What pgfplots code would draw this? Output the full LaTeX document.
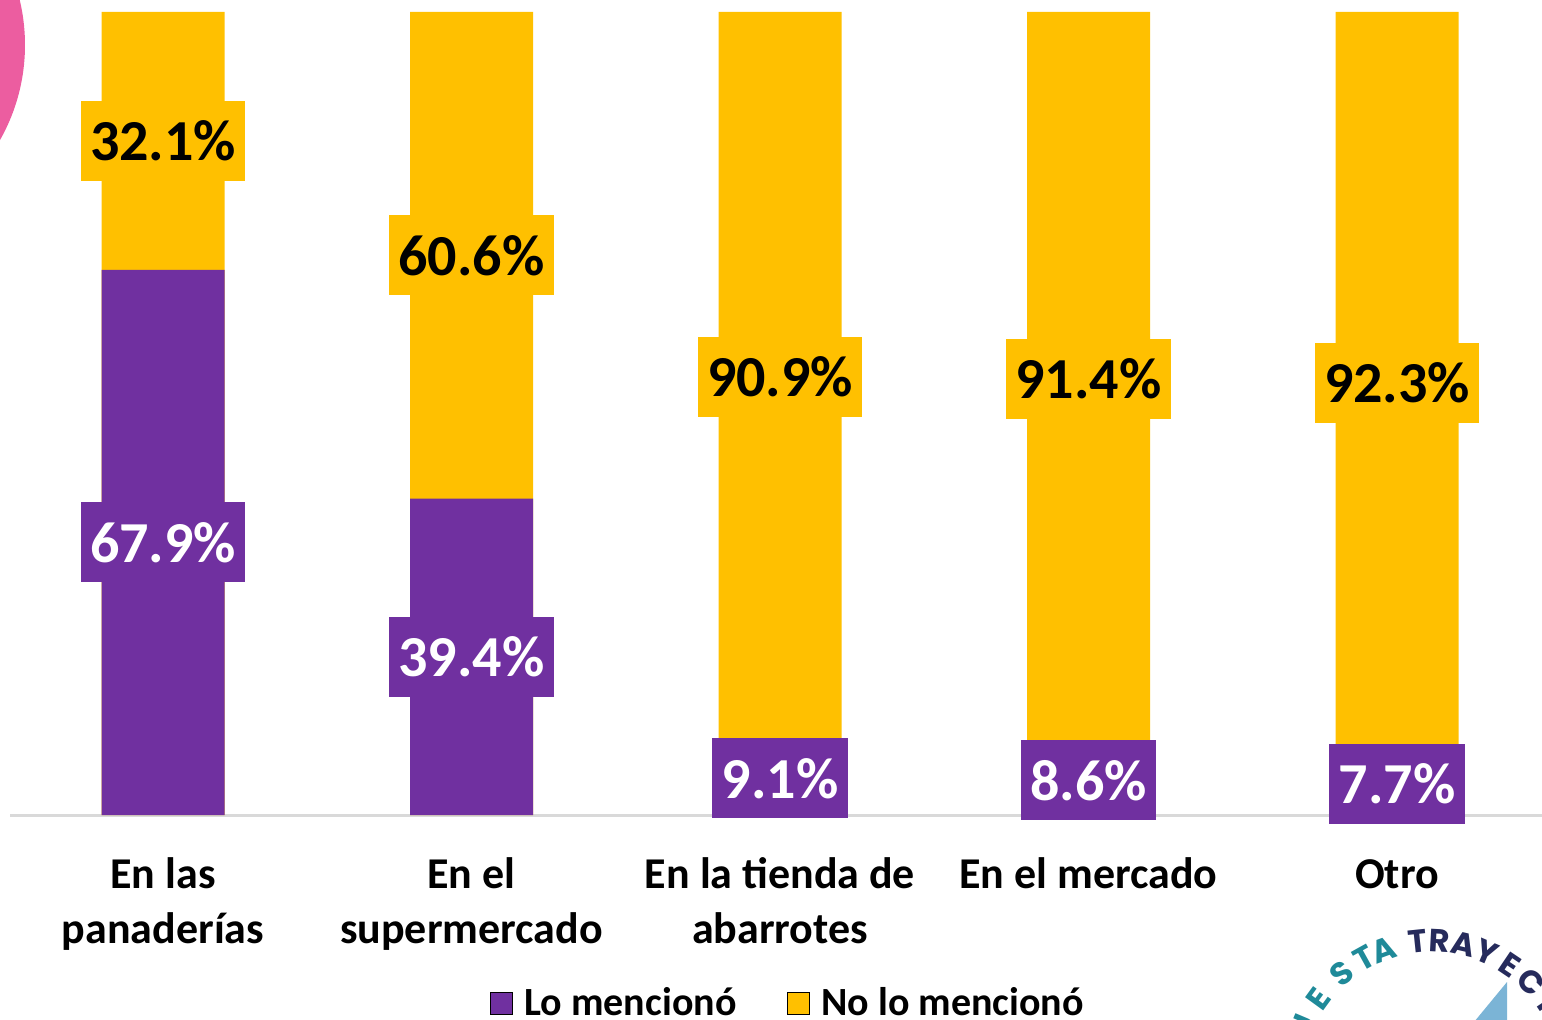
\documentclass[border=0pt]{standalone}
\usepackage{pgfplots}
\pgfplotsset{compat=1.18}
\usepackage{pgfplotstable}
\usepackage{fontspec}
\setmainfont{Carlito}
\newfontfamily\logofont{Poppins}
\definecolor{purp}{HTML}{7030A0}
\definecolor{yel}{HTML}{FFC000}
\definecolor{pinkc}{RGB}{236,93,160}
\definecolor{axgray}{HTML}{D9D9D9}
\definecolor{tealc}{HTML}{1F8A99}
\definecolor{navyc}{HTML}{262B5C}
\definecolor{lblue}{HTML}{7BB4D6}

\pgfplotstableread{
x a b
0 67.9 32.1
1 39.4 60.6
2 9.1 90.9
3 8.6 91.4
4 7.7 92.3
}\data

\begin{document}
\begin{tikzpicture}
\fill[pinkc] (-89pt,385pt) circle (96.5pt);
\begin{axis}[
  at={(0pt,0pt)}, anchor=south west,
  scale only axis, width=766pt, height=401.5pt,
  xmin=-0.496, xmax=4.47, ymin=0, ymax=100,
  hide y axis,
  axis x line*=bottom,
  x axis line style={draw=axgray, line width=1.5pt, -},
  xtick={0,1,2,3,4},
  xticklabels={{En las\\panaderías},{En el\\supermercado},{En la tienda de\\abarrotes},{En el mercado},{\vphantom{El}Otro}},
  major tick length=0pt,
  xticklabel style={align=center, anchor=north, inner sep=0pt, yshift=-21pt,
    font=\fontsize{22}{27.5}\selectfont\bfseries, text=black},
  clip=false,
  /pgf/number format/assume math mode=true,
  legend image code/.code={\fill[#1] (0pt,-5.5pt) rectangle (11pt,5.5pt);},
  legend style={draw=none, fill=none, at={(0.507,-0.234)}, anchor=center,
    legend columns=2, font=\fontsize{20}{24}\selectfont\bfseries,
    nodes={inner sep=0pt},
    /tikz/every even column/.append style={column sep=25pt},
    /tikz/every odd column/.append style={column sep=6pt}},
]
\addlegendimage{fill=purp}
\addlegendentry{Lo mencionó}
\addlegendimage{fill=yel}
\addlegendentry{No lo mencionó}
\addplot[ybar, bar width=61.5pt, bar shift=0pt, fill=yel, draw=none, forget plot]
  table[x=x, y expr=\thisrow{a}+\thisrow{b}] {\data};
\addplot[ybar, bar width=61.5pt, bar shift=0pt, fill=purp, draw=none, forget plot]
  table[x=x, y=a] {\data};
\addplot[draw=none, mark=none, forget plot, point meta=explicit,
  nodes near coords={\pgfmathprintnumber[fixed,precision=1,fixed zerofill,assume math mode=true]{\pgfplotspointmeta}\%},
  nodes near coords align=center,
  every node near coord/.append style={anchor=center, fill=purp, text=white,
    inner xsep=4.75pt, inner ysep=0pt, minimum height=40pt,
    font=\fontsize{29}{34}\selectfont\bfseries}]
  table[x=x, y expr=\thisrow{a}/2, meta=a] {\data};
\addplot[draw=none, mark=none, forget plot, point meta=explicit,
  nodes near coords={\pgfmathprintnumber[fixed,precision=1,fixed zerofill,assume math mode=true]{\pgfplotspointmeta}\%},
  nodes near coords align=center,
  every node near coord/.append style={anchor=center, fill=yel, text=black,
    inner xsep=4.75pt, inner ysep=0pt, minimum height=40pt,
    font=\fontsize{29}{34}\selectfont\bfseries}]
  table[x=x, y expr=\thisrow{a}+\thisrow{b}/2, meta=b] {\data};
\end{axis}
\fill[lblue] (748.5pt,-83.5pt) -- (725pt,-112pt) -- (748.5pt,-112pt) -- cycle;
\foreach \ang/\l/\c in {157/U/tealc,144/E/tealc,130/S/tealc,119/T/tealc,110/A/tealc,96/T/navyc,87/R/navyc,77/A/navyc,67/Y/navyc,56/E/navyc,45/C/navyc,34/T/navyc}{
  \path (711pt,-133pt) ++(\ang:70pt) node[rotate=\ang-90, text=\c, inner sep=0pt,
    font=\logofont\bfseries\fontsize{16}{16}\selectfont] {\l};
}
\pgfresetboundingbox
\useasboundingbox (-5pt,-102pt) rectangle (766pt,407.5pt);
\end{tikzpicture}
\end{document}
